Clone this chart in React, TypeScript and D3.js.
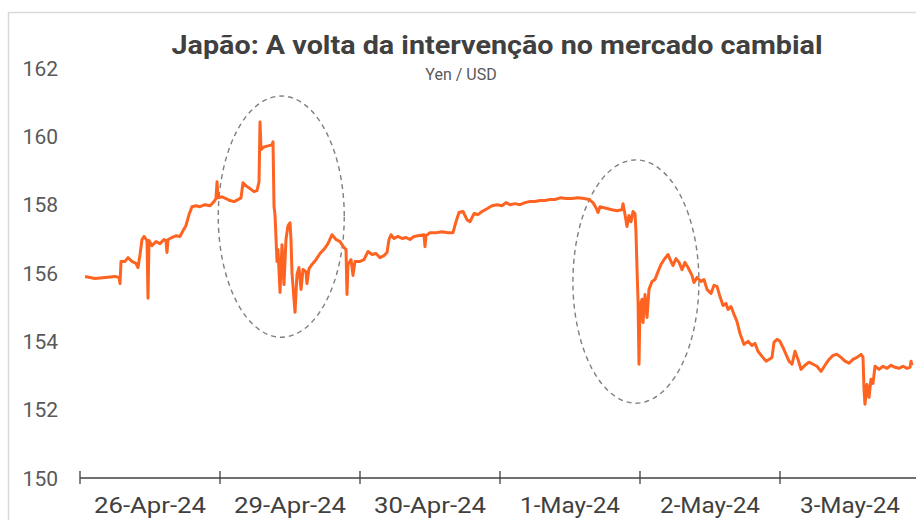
import React from "react";
import * as d3 from "d3";

// ---- Data ----
const days = ["26-Apr-24", "29-Apr-24", "30-Apr-24", "1-May-24", "2-May-24", "3-May-24"];
const yTicks = [150, 152, 154, 156, 158, 160, 162];

// hours since the start of the 26-Apr trading session (24 h per trading day shown)
const hours = [
  0.86, 2.57, 4.29, 6.0, 6.69, 6.86, 7.03, 7.71, 8.23, 8.91, 9.6, 9.94, 10.29, 10.63, 10.97, 11.49, 11.66, 11.83, 12.34, 13.03,
  13.71, 14.4, 14.74, 14.91, 15.09, 15.77, 16.46, 17.14, 17.66, 18.17, 18.69, 19.2, 19.89, 20.57, 21.43, 22.29, 22.97, 23.31, 23.49, 23.66,
  24.34, 25.03, 25.71, 26.4, 27.09, 27.6, 27.94, 28.46, 29.14, 29.83, 30.34, 30.69, 30.86, 31.03, 31.54, 32.23, 32.91, 33.09, 33.26, 33.43,
  33.77, 33.94, 34.29, 34.63, 34.97, 35.31, 35.66, 36.0, 36.17, 36.34, 36.69, 36.86, 37.2, 37.54, 37.89, 38.23, 38.74, 38.91, 39.26, 39.77,
  40.46, 41.14, 41.83, 42.51, 43.2, 43.89, 44.57, 45.26, 45.6, 45.77, 45.94, 46.46, 46.8, 47.14, 48.0,
  48.69, 49.37, 50.06, 50.74, 51.43, 52.11, 52.63, 52.97, 53.31, 53.83, 54.51, 55.2, 55.89, 56.57, 57.26, 57.94, 58.97, 59.14, 59.31, 60.0,
  61.03, 62.06, 63.09, 63.94, 64.46, 64.97, 65.66, 66.34, 66.86, 67.54, 68.23, 68.91, 69.77, 70.63, 71.49,
  72.34, 73.03, 73.71, 74.57, 75.43, 76.29, 77.14, 78.0, 78.86, 79.71, 80.57, 81.43, 82.29, 83.31, 84.34, 85.37, 86.4, 87.26, 87.94, 88.46,
  88.8, 89.14, 89.83, 90.51, 91.2, 92.06, 92.91, 93.09, 93.43, 93.77, 94.11, 94.46, 94.8, 95.14, 95.31, 95.49, 95.66, 95.83,
  96.0, 96.34, 96.51, 96.86, 97.2, 97.54, 98.06, 98.57, 99.09, 99.6, 100.11, 100.8, 101.31, 101.66, 102.17, 102.69, 103.2, 103.71, 104.23, 104.91,
  105.26, 105.77, 106.46, 106.97, 107.49, 108.17, 108.69, 109.2, 109.71, 110.23, 110.74, 111.09, 111.6, 112.11, 112.63, 113.14, 113.83, 114.51, 115.2, 115.71,
  116.23, 116.91, 117.6, 118.11, 118.63, 118.97, 119.49,
  120.0, 120.51, 121.03, 121.54, 122.06, 122.57, 123.09, 123.6, 124.29, 124.97, 125.66, 126.34, 127.03, 127.71, 128.4, 129.09, 129.77, 130.46, 131.14, 131.83,
  132.51, 133.2, 133.89, 134.23, 134.4, 134.57, 134.91, 135.26, 135.6, 135.94, 136.29, 136.97, 137.66, 138.34, 139.03, 139.71, 140.4, 141.09, 141.77, 142.29,
  142.46, 142.63,
];

// Yen per USD
const yen = [
  155.9, 155.84, 155.87, 155.9, 155.87, 155.69, 156.34, 156.34, 156.45, 156.34, 156.28, 156.16, 156.54, 156.98, 157.07, 156.95, 155.26, 156.95, 156.8, 156.92,
  156.86, 156.98, 156.95, 156.6, 156.98, 157.04, 157.09, 157.07, 157.24, 157.39, 157.71, 157.94, 157.97, 157.94, 158.0, 157.97, 158.09, 158.18, 158.67, 158.2,
  158.23, 158.18, 158.12, 158.09, 158.15, 158.2, 158.64, 158.55, 158.47, 158.38, 158.41, 158.67, 160.42, 159.61, 159.69, 159.72, 159.75, 159.84, 157.94, 157.71,
  156.34, 156.69, 155.43, 156.83, 155.66, 156.98, 157.39, 157.47, 156.98, 156.01, 155.23, 154.85, 155.96, 156.16, 155.52, 156.1, 156.04, 155.69, 156.13, 156.25,
  156.39, 156.57, 156.69, 156.86, 157.12, 156.98, 156.92, 156.74, 156.69, 155.37, 156.25, 156.39, 155.93, 156.34, 156.34,
  156.39, 156.63, 156.54, 156.57, 156.45, 156.51, 156.6, 156.98, 157.12, 157.01, 157.07, 157.01, 157.04, 156.98, 157.07, 157.09, 157.12, 156.77, 157.09, 157.18,
  157.18, 157.21, 157.18, 157.18, 157.5, 157.77, 157.8, 157.56, 157.5, 157.74, 157.71, 157.8, 157.88, 157.97, 158.0,
  157.97, 158.06, 158.0, 158.03, 158.0, 158.06, 158.09, 158.09, 158.12, 158.12, 158.15, 158.15, 158.2, 158.18, 158.18, 158.2, 158.18, 158.15, 158.06, 157.91,
  157.77, 157.94, 157.91, 157.88, 157.85, 157.82, 157.85, 158.03, 157.71, 157.36, 157.68, 157.5, 157.8, 157.74, 157.21, 156.1, 155.23, 153.33,
  155.02, 155.23, 154.55, 155.37, 154.7, 155.52, 155.75, 155.81, 156.04, 156.25, 156.39, 156.54, 156.34, 156.22, 156.42, 156.31, 156.1, 156.31, 156.16, 155.93,
  155.72, 155.87, 155.75, 155.81, 155.52, 155.4, 155.64, 155.61, 155.31, 155.05, 155.11, 154.93, 155.02, 154.79, 154.58, 154.23, 153.91, 154.0, 153.88, 153.94,
  153.71, 153.56, 153.42, 153.47, 153.53, 153.97, 154.06,
  154.0, 153.82, 153.62, 153.42, 153.33, 153.71, 153.47, 153.18, 153.3, 153.39, 153.33, 153.27, 153.12, 153.3, 153.47, 153.59, 153.62, 153.53, 153.42, 153.36,
  153.47, 153.53, 153.62, 153.53, 152.6, 152.16, 152.74, 152.36, 152.89, 152.77, 153.27, 153.18, 153.27, 153.21, 153.3, 153.24, 153.21, 153.27, 153.21, 153.24,
  153.42, 153.3,
];

// circled intervention episodes (centre hour, centre value, half-span in hours, half-span in yen)
const episodeHour = [34.5, 95.3];
const episodeValue = [157.65, 155.75];
const episodeHalfHours = [10.8, 10.8];
const episodeHalfYen = [3.53, 3.56];

const title = "Japão: A volta da intervenção no mercado cambial";
const subtitle = "Yen / USD";

// ---- Chart ----
const W = 916;
const H = 520;
const left = 80;
const right = 920;
const top = 68;
const bottom = 478;

export default function App() {
  const band = d3.scaleBand<string>().domain(days).range([left, right]).padding(0);
  const x = d3.scaleLinear().domain([0, days.length * 24]).range([left, right]);
  const y = d3.scaleLinear().domain([150, 162]).range([bottom, top]);

  const pts: [number, number][] = hours.map((h, i) => [h, yen[i]]);
  const line = d3
    .line<[number, number]>()
    .x((d) => x(d[0]))
    .y((d) => y(d[1]));

  const tickEdges = days.map((d) => band(d) as number);
  const font = "Roboto, 'Noto Sans', sans-serif";

  return (
    <svg
      width={W}
      height={H}
      style={{ position: "absolute", left: 0, top: 0, background: "#fff" }}
      fontFamily={font}
    >
      <rect x={8.5} y={12.5} width={1000} height={600} fill="#fff" stroke="#d9d9d9" strokeWidth={1.5} />

      <text
        x={497}
        y={54}
        textAnchor="middle"
        fontSize={25}
        fontWeight={700}
        fill="#404040"
        textLength={651}
        lengthAdjust="spacingAndGlyphs"
      >
        {title}
      </text>
      <text x={461} y={80} textAnchor="middle" fontSize={16} fill="#595959">
        {subtitle}
      </text>

      {yTicks.map((t) => (
        <text key={t} x={58} y={y(t)} dy="0.36em" textAnchor="end" fontSize={21} fill="#595959">
          {t}
        </text>
      ))}

      {episodeHour.map((h, i) => {
        const cx = x(h);
        const cy = y(episodeValue[i]);
        const rx = x(h + episodeHalfHours[i]) - cx;
        const ry = cy - y(episodeValue[i] + episodeHalfYen[i]);
        return (
          <ellipse
            key={i}
            cx={cx}
            cy={cy}
            rx={rx}
            ry={ry}
            fill="none"
            stroke="#7f7f7f"
            strokeWidth={1.4}
            strokeDasharray="5,4"
          />
        );
      })}

      <path d={line(pts) || ""} fill="none" stroke="#FF6321" strokeWidth={3} strokeLinejoin="round" />

      <line x1={left} x2={W} y1={bottom} y2={bottom} stroke="#404040" strokeWidth={1.5} />
      {tickEdges.map((tx, i) => (
        <line key={i} x1={tx} x2={tx} y1={bottom - 7} y2={bottom + 6} stroke="#404040" strokeWidth={1.3} />
      ))}
      {days.map((d) => (
        <text
          key={d}
          x={(band(d) as number) + band.bandwidth() / 2}
          y={513}
          textAnchor="middle"
          fontSize={22}
          fill="#404040"
          textLength={d.length >= 9 ? 112 : 100}
          lengthAdjust="spacingAndGlyphs"
        >
          {d}
        </text>
      ))}
    </svg>
  );
}
